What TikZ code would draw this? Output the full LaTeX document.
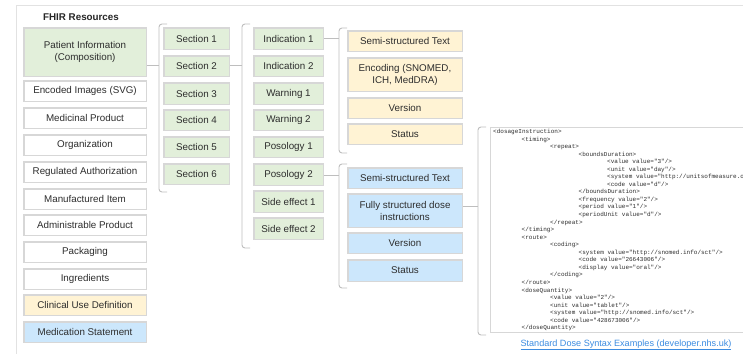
\documentclass[tikz,border=0pt]{standalone}
\usepackage{fontspec}
\setmainfont{Liberation Sans}
\newfontfamily\codefont{Liberation Mono}
\usetikzlibrary{calc}
\definecolor{grn}{RGB}{226,239,218}
\definecolor{ylw}{RGB}{255,243,212}
\definecolor{blu}{RGB}{204,231,252}
\definecolor{wht}{RGB}{255,255,255}
\definecolor{bord}{RGB}{215,215,215}
\definecolor{brkc}{RGB}{190,190,190}
\definecolor{txt}{RGB}{45,45,45}
\definecolor{lnk}{RGB}{60,140,225}
\definecolor{frm}{RGB}{226,226,226}
\newlength\indw
\setlength\indw{28.5pt}
\newcommand\mybox[7]{%
  \node[box,fill=#6,minimum width={#4-#2-1.5},minimum height={#5-#3-1.5}] (#1) at ({(#2+#4)/2},{(#3+#5)/2}) {#7};}
\newcommand\mybrk[6]{% name, x, top, bottom, tipy, parent
  \coordinate (#1top) at (#2+8,#3);
  \coordinate (#1bot) at (#2+8,#4);
  \coordinate (#1tip) at (#2,#5);
  \draw[brkline] (#1top) -- (#1top -| #1tip) -- (#1bot -| #1tip) -- (#1bot);
  \draw[brkline] (#6.east |- #1tip) -- (#1tip);}
\begin{document}
\begin{tikzpicture}[x=1pt,y=-1pt,
  box/.style={draw=bord, line width=1.5pt, inner sep=0pt, align=center, text=txt,
    font=\fontsize{9.8}{12}\selectfont},
  brkline/.style={draw=brkc, line width=0.9pt, rounded corners=3pt},
  frmline/.style={draw=frm, line width=1pt}]
\useasboundingbox (0,0) rectangle (743,354);
\clip (0,0) rectangle (743,354);
\fill[white] (0,0) rectangle (743,354);
\draw[frmline] (16,354) -- (16,5.5) -- (743,5.5);

\node[font=\bfseries\fontsize{9.8}{12}\selectfont, text=black!85] (title) at (81,17) {FHIR Resources};

% left column
\mybox{pi}{23}{27}{147}{77}{grn}{Patient Information\\(Composition)}
\mybox{enc}{23}{80}{147}{102}{wht}{Encoded Images (SVG)}
\mybox{med}{23}{107}{147}{129}{wht}{Medicinal Product}
\mybox{org}{23}{134}{147}{156}{wht}{Organization}
\mybox{reg}{23}{161}{147}{183}{wht}{Regulated Authorization}
\mybox{man}{23}{188}{147}{210}{wht}{Manufactured Item}
\mybox{adm}{23}{214}{147}{236}{wht}{Administrable Product}
\mybox{pack}{23}{241}{147}{263}{wht}{Packaging}
\mybox{ing}{23}{268}{147}{290}{wht}{Ingredients}
\mybox{cud}{23}{294}{147}{316}{ylw}{Clinical Use Definition}
\mybox{ms}{23}{321}{147}{343}{blu}{Medication Statement}

% sections
\mybox{s1}{163}{27}{230}{50}{grn}{Section 1}
\mybox{s2}{163}{55}{230}{77}{grn}{Section 2}
\mybox{s3}{163}{82}{230}{105}{grn}{Section 3}
\mybox{s4}{163}{109}{230}{131}{grn}{Section 4}
\mybox{s5}{163}{136}{230}{158}{grn}{Section 5}
\mybox{s6}{163}{163}{230}{185}{grn}{Section 6}

% indications
\mybox{i1}{253}{27}{324}{50}{grn}{Indication 1}
\mybox{i2}{253}{55}{324}{77}{grn}{Indication 2}
\mybox{w1}{253}{82}{324}{105}{grn}{Warning 1}
\mybox{w2}{253}{109}{324}{131}{grn}{Warning 2}
\mybox{p1}{253}{136}{324}{158}{grn}{Posology 1}
\mybox{p2}{253}{163}{324}{186}{grn}{Posology 2}
\mybox{se1}{253}{190}{324}{213}{grn}{Side effect 1}
\mybox{se2}{253}{217}{324}{240}{grn}{Side effect 2}

% yellow
\mybox{y1}{347}{30}{463}{52}{ylw}{Semi-structured Text}
\mybox{y2}{347}{57}{463}{92}{ylw}{Encoding (SNOMED,\\ICH, MedDRA)}
\mybox{y3}{347}{97}{463}{119}{ylw}{Version}
\mybox{y4}{347}{123}{463}{145}{ylw}{Status}

% blue
\mybox{b1}{347}{167}{463}{189}{blu}{Semi-structured Text}
\mybox{b2}{347}{193}{463}{228}{blu}{Fully structured dose\\instructions}
\mybox{b3}{347}{232}{463}{254}{blu}{Version}
\mybox{b4}{347}{259}{463}{282}{blu}{Status}

% brackets
\mybrk{ka}{159}{24}{192}{65}{pi}
\mybrk{kb}{242}{24}{248}{65}{s2}
\mybrk{kc}{339}{28}{153}{38}{i1}
\mybrk{kd}{339}{164}{288}{175}{p2}
\mybrk{ke}{478}{127}{335}{206}{b2}

% code box
\node[draw=bord, line width=1pt, minimum width=300, minimum height=205, anchor=north west, inner sep=0pt] (code) at (490,127) {};
\node[anchor=north west, inner sep=0pt, text=txt] (codetxt) at (493,128) {\codefont\fontsize{6}{7.55}\selectfont
\begin{tabular}{@{}l@{}}
<dosageInstruction>\\
\hspace*{1\indw}<timing>\\
\hspace*{2\indw}<repeat>\\
\hspace*{3\indw}<boundsDuration>\\
\hspace*{4\indw}<value value="3"/>\\
\hspace*{4\indw}<unit value="day"/>\\
\hspace*{4\indw}<system value="http://unitsofmeasure.or\\
\hspace*{4\indw}<code value="d"/>\\
\hspace*{3\indw}</boundsDuration>\\
\hspace*{3\indw}<frequency value="2"/>\\
\hspace*{3\indw}<period value="1"/>\\
\hspace*{3\indw}<periodUnit value="d"/>\\
\hspace*{2\indw}</repeat>\\
\hspace*{1\indw}</timing>\\
\hspace*{1\indw}<route>\\
\hspace*{2\indw}<coding>\\
\hspace*{3\indw}<system value="http://snomed.info/sct"/>\\
\hspace*{3\indw}<code value="26643006"/>\\
\hspace*{3\indw}<display value="oral"/>\\
\hspace*{2\indw}</coding>\\
\hspace*{1\indw}</route>\\
\hspace*{1\indw}<doseQuantity>\\
\hspace*{2\indw}<value value="2"/>\\
\hspace*{2\indw}<unit value="tablet"/>\\
\hspace*{2\indw}<system value="http://snomed.info/sct"/>\\
\hspace*{2\indw}<code value="428673006"/>\\
\hspace*{1\indw}</doseQuantity>
\end{tabular}};

\node[text=lnk, font=\fontsize{9.1}{11}\selectfont, inner sep=0pt] (link) at (626,345) {\underline{Standard Dose Syntax Examples (developer.nhs.uk)}};
\end{tikzpicture}
\end{document}
